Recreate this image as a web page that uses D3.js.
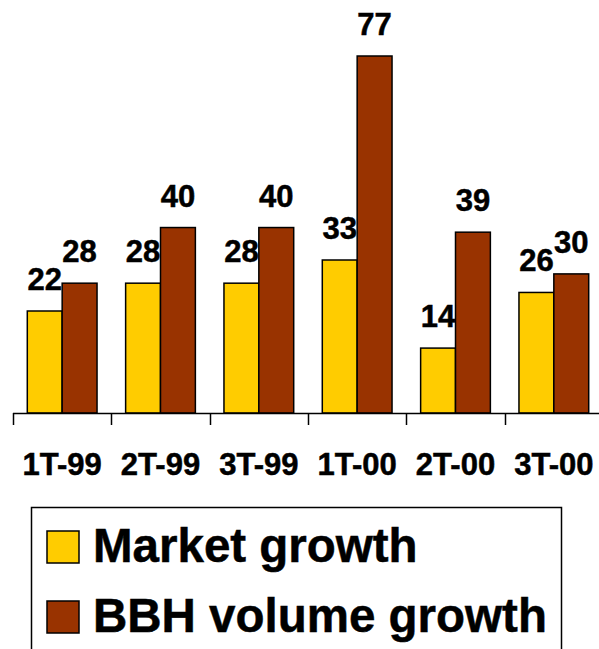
<!DOCTYPE html>
<html>
<head>
<meta charset="utf-8">
<script src="https://cdn.jsdelivr.net/npm/d3@7"></script>
<style>
  body { margin: 0; background: #fff; }
  svg { display: block; font-family: "Liberation Sans", Arial, sans-serif; font-weight: bold; }
  text { stroke: #000; stroke-width: 0.5px; }
</style>
</head>
<body>
<svg width="599" height="649"></svg>
<script>
// data
var quarters = ["1T-99", "2T-99", "3T-99", "1T-00", "2T-00", "3T-00"];
var marketGrowth = [22, 28, 28, 33, 14, 26];
var bbhGrowth = [28, 40, 40, 77, 39, 30];
var seriesNames = ["Market growth", "BBH volume growth"];
var seriesColors = ["#FFCC00", "#993300"];

var svg = d3.select("svg"),
    width = +svg.attr("width"),
    height = +svg.attr("height");

var baseY = 413;

var x0 = d3.scaleBand()
    .domain(quarters)
    .range([13, 603]);

var x1 = d3.scaleBand()
    .domain([0, 1])
    .range([0, x0.bandwidth()])
    .paddingOuter(0.41);

var y = d3.scaleLinear()
    .domain([0, 77])
    .range([baseY, 56]);

var rows = quarters.map(function (q, i) {
    return { q: q, vals: [marketGrowth[i], bbhGrowth[i]] };
});

var groups = svg.append("g").selectAll("g")
    .data(rows)
    .enter().append("g")
    .attr("transform", d => "translate(" + x0(d.q) + ",0)");

groups.selectAll("rect")
    .data(d => d.vals.map((v, k) => ({ k: k, v: v })))
    .enter().append("rect")
    .attr("x", d => x1(d.k))
    .attr("y", d => y(d.v))
    .attr("width", x1.bandwidth())
    .attr("height", d => baseY - y(d.v))
    .attr("fill", d => seriesColors[d.k])
    .attr("stroke", "#000")
    .attr("stroke-width", 1.5);

// value labels
groups.selectAll("text")
    .data(d => d.vals.map((v, k) => ({ k: k, v: v })))
    .enter().append("text")
    .attr("x", d => x1(d.k) + x1.bandwidth() / 2)
    .attr("y", d => y(d.v) - 21)
    .attr("text-anchor", "middle")
    .attr("font-size", 31)
    .text(d => d.v);

// axis: line + ticks at band edges
var axis = svg.append("g");
axis.append("line")
    .attr("x1", 13).attr("x2", width)
    .attr("y1", baseY + 0.5).attr("y2", baseY + 0.5)
    .attr("stroke", "#000").attr("stroke-width", 1.5);

var edges = quarters.map(q => x0(q)).concat([x0.range()[1]]);
axis.selectAll("line.tick")
    .data(edges)
    .enter().append("line")
    .attr("class", "tick")
    .attr("x1", d => Math.round(d) + 0.5).attr("x2", d => Math.round(d) + 0.5)
    .attr("y1", baseY).attr("y2", baseY + 12)
    .attr("stroke", "#000").attr("stroke-width", 1.5);

axis.selectAll("text")
    .data(quarters)
    .enter().append("text")
    .attr("x", d => x0(d) + x0.bandwidth() / 2)
    .attr("y", 475)
    .attr("text-anchor", "middle")
    .attr("font-size", 31)
    .text(d => d);

// legend
var legend = svg.append("g");
legend.append("rect")
    .attr("x", 31.5).attr("y", 507.5)
    .attr("width", 530).attr("height", 160)
    .attr("fill", "#fff")
    .attr("stroke", "#000").attr("stroke-width", 1.5);

var items = legend.selectAll("g")
    .data(seriesNames)
    .enter().append("g")
    .attr("transform", (d, i) => "translate(0," + (i * 70) + ")");

items.append("rect")
    .attr("x", 47).attr("y", 531)
    .attr("width", 32).attr("height", 32)
    .attr("fill", (d, i) => seriesColors[i])
    .attr("stroke", "#000").attr("stroke-width", 1.5);

items.append("text")
    .attr("x", 93).attr("y", 562)
    .attr("font-size", 47.5)
    .text(d => d);
</script>
</body>
</html>
